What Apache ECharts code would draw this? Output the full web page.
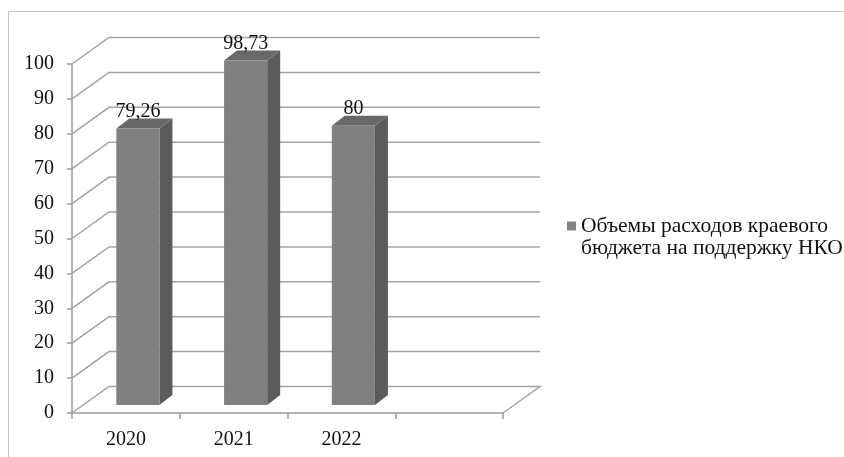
<!DOCTYPE html>
<html><head><meta charset="utf-8">
<script src="https://cdn.jsdelivr.net/npm/echarts@6/dist/echarts.min.js"></script>
<style>html,body{margin:0;padding:0;background:#fff}#c{width:844px;height:457px}</style>
</head><body><div id="c"></div>
<script>
const categories = ['2020', '2021', '2022', ''];
const values = [79.26, 98.73, 80];
const valueLabels = ['79,26', '98,73', '80'];
const yTicks = [0, 10, 20, 30, 40, 50, 60, 70, 80, 90, 100];
const seriesName = 'Объемы расходов краевого бюджета на поддержку НКО';
const legendLines = ['Объемы расходов краевого', 'бюджета на поддержку НКО'];

// oblique depth (pixels) of the back wall, and bar placement inside the depth
const WALL_DX = 37, WALL_DY = -26.5;
const BAR_OFF_X = 12, BAR_OFF_Y = -8;
const BAR_DX = 13, BAR_DY = -10;
const BAR_W = 0.4;
const FONT = 'Liberation Serif';

const chart = echarts.init(document.getElementById('c'), null, {renderer: 'canvas'});

const option = {
  backgroundColor: '#fff',
  animation: false,
  graphic: [{
    type: 'rect', silent: true, z: 0,
    shape: {x: 8.5, y: 11.5, width: 900, height: 600},
    style: {fill: 'none', stroke: '#c4c4c4', lineWidth: 1}
  }],
  grid: {left: 72, top: 64, width: 431, height: 349},
  legend: {
    left: 567, top: 193, padding: 0,
    icon: 'rect', itemWidth: 9, itemHeight: 9,
    data: [seriesName],
    formatter: function () { return ' \n' + legendLines.join('\n'); },
    textStyle: {fontFamily: FONT, fontSize: 21.5, color: '#111', lineHeight: 22}
  },
  xAxis: {
    type: 'category', data: categories,
    axisLine: {lineStyle: {color: '#9a9a9a', width: 1.5}},
    axisTick: {show: true, length: 6, alignWithLabel: false, lineStyle: {color: '#9a9a9a', width: 1.5}},
    axisLabel: {fontFamily: FONT, fontSize: 20, color: '#111', margin: 17, interval: 0},
    splitLine: {show: false}
  },
  yAxis: {
    type: 'value', min: 0, max: 100, interval: 10,
    axisLine: {show: true, lineStyle: {color: '#9a9a9a', width: 1.5}},
    axisTick: {show: true, length: 5, lineStyle: {color: '#9a9a9a', width: 1.5}},
    axisLabel: {fontFamily: FONT, fontSize: 20, color: '#111', margin: 18},
    splitLine: {show: false}
  },
  series: [
    {
      type: 'custom', silent: true, z: 1,
      data: yTicks.map(v => [0, v]),
      renderItem: function (params, api) {
        const v = api.value(1);
        const band = api.size([1, 0])[0];
        const left = api.coord([0, v]);
        const right = api.coord([categories.length - 1, v]);
        const lx = left[0] - band / 2, rx = right[0] + band / 2, y = left[1];
        const pts = [[lx, y], [lx + WALL_DX, y + WALL_DY], [rx + WALL_DX, y + WALL_DY]];
        if (v === 0) pts.push([rx, y]);
        return {
          type: 'polyline', shape: {points: pts},
          style: {fill: null, stroke: '#a3a3a3', lineWidth: 1.5}
        };
      }
    },
    {
      name: seriesName,
      type: 'custom', z: 2,
      itemStyle: {color: '#838385'},
      data: values.map((v, i) => [i, v]),
      renderItem: function (params, api) {
        const i = api.value(0), v = api.value(1);
        const band = api.size([1, 0])[0];
        const top = api.coord([i, v]);
        const base = api.coord([i, 0]);
        const w = band * BAR_W;
        const fx = top[0] + BAR_OFF_X - w / 2;
        const fy = top[1] + BAR_OFF_Y;
        const by = base[1] + BAR_OFF_Y;
        return {
          type: 'group',
          children: [
            {type: 'polygon', shape: {points: [[fx + w, fy], [fx + w + BAR_DX, fy + BAR_DY], [fx + w + BAR_DX, by + BAR_DY], [fx + w, by]]},
             style: {fill: '#5b5b5d'}},
            {type: 'polygon', shape: {points: [[fx, fy], [fx + BAR_DX, fy + BAR_DY], [fx + w + BAR_DX, fy + BAR_DY], [fx + w, fy]]},
             style: {fill: '#68686a'}},
            {type: 'rect', shape: {x: fx, y: fy, width: w, height: by - fy},
             style: {fill: '#808082'}},
            {type: 'text', x: fx + w / 2, y: fy + BAR_DY + 3,
             style: {text: valueLabels[params.dataIndex], fontFamily: FONT, fontSize: 20, fill: '#111',
                     align: 'center', verticalAlign: 'bottom'}}
          ]
        };
      }
    }
  ]
};
chart.setOption(option);
</script>
</body></html>
